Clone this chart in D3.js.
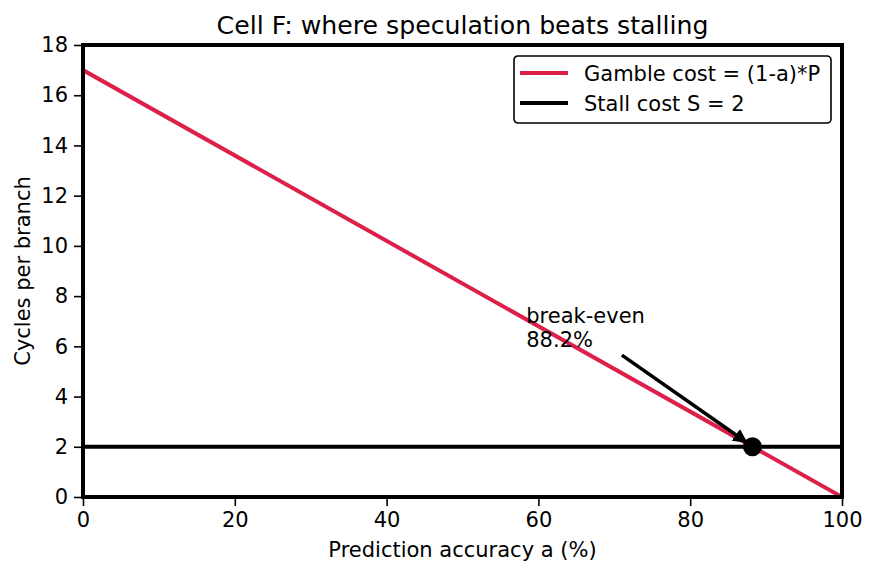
<!DOCTYPE html>
<html><head><meta charset="utf-8">
<script src="https://cdn.jsdelivr.net/npm/d3@7"></script>
<style>body{margin:0;background:#fff}svg{display:block}text{font-family:"DejaVu Sans",sans-serif;fill:#000}</style>
</head><body>
<script>
const accuracy = [0, 100];
const gambleCost = [17, 0];
const stallAccuracy = [0, 100];
const stallCost = [2, 2];
const breakEven = {a: 88.2, cost: 2, label: ["break-even", "88.2%"], textA: 58.4, tailA: 71, tailCost: 5.65};
const xTicks = [0, 20, 40, 60, 80, 100];
const yTicks = [0, 2, 4, 6, 8, 10, 12, 14, 16, 18];
const legendLabels = ["Gamble cost = (1-a)*P", "Stall cost S = 2"];
const colors = ["#dc2049", "#000000"];

const W = 876, H = 573;
const m = {l: 83, r: 34, t: 45, b: 76};
const FS = 21;
const svg = d3.select("body").append("svg").attr("width", W).attr("height", H);
const x = d3.scaleLinear().domain([0, 100]).range([m.l, W - m.r]);
const y = d3.scaleLinear().domain([0, 18]).range([H - m.b, m.t]);

const defs = svg.append("defs");
defs.append("clipPath").attr("id", "clip").append("rect")
  .attr("x", m.l).attr("y", m.t).attr("width", W - m.r - m.l).attr("height", H - m.b - m.t);
defs.append("marker").attr("id", "arr").attr("viewBox", "0 0 10 10").attr("refX", 9).attr("refY", 5)
  .attr("markerWidth", 4).attr("markerHeight", 4).attr("orient", "auto").attr("markerUnits", "strokeWidth")
  .append("path").attr("d", "M0,0 L10,5 L0,10 Z").attr("fill", "#000");

const line = d3.line().x(d => x(d[0])).y(d => y(d[1]));
const g = svg.append("g").attr("clip-path", "url(#clip)");
g.append("path").datum(accuracy.map((a, i) => [a, gambleCost[i]]))
  .attr("d", line).attr("fill", "none").attr("stroke", colors[0]).attr("stroke-width", 4);
g.append("path").datum(stallAccuracy.map((a, i) => [a, stallCost[i]]))
  .attr("d", line).attr("fill", "none").attr("stroke", colors[1]).attr("stroke-width", 4);

// axes
const xAxis = svg.append("g").attr("transform", `translate(0,${H - m.b})`)
  .call(d3.axisBottom(x).tickValues(xTicks).tickSize(9).tickPadding(6));
const yAxis = svg.append("g").attr("transform", `translate(${m.l},0)`)
  .call(d3.axisLeft(y).tickValues(yTicks).tickSize(9).tickPadding(6));
[xAxis, yAxis].forEach(ax => {
  ax.select(".domain").remove();
  ax.selectAll("line").attr("stroke", "#000").attr("stroke-width", 1.6);
  ax.selectAll("text").attr("font-size", FS).attr("font-family", "DejaVu Sans").attr("fill", "#000");
});

// spines
svg.append("rect").attr("x", m.l).attr("y", m.t).attr("width", W - m.r - m.l).attr("height", H - m.b - m.t)
  .attr("fill", "none").attr("stroke", "#000").attr("stroke-width", 4);

// annotation
svg.append("line").attr("x1", x(breakEven.tailA)).attr("y1", y(breakEven.tailCost))
  .attr("x2", x(breakEven.a) - 6).attr("y2", y(breakEven.cost) - 4.5)
  .attr("stroke", "#000").attr("stroke-width", 3.6).attr("marker-end", "url(#arr)");
svg.append("circle").attr("cx", x(breakEven.a)).attr("cy", y(breakEven.cost)).attr("r", 9.5).attr("fill", "#000");
const ann = svg.append("text").attr("x", x(breakEven.textA)).attr("y", 323).attr("font-size", FS);
breakEven.label.forEach((t, i) => ann.append("tspan").attr("x", x(breakEven.textA)).attr("dy", i ? 24 : 0).text(t));

// legend
const lg = svg.append("g").attr("transform", "translate(514,56)");
lg.append("rect").attr("width", 317).attr("height", 67).attr("rx", 4).attr("fill", "#fff")
  .attr("stroke", "#000").attr("stroke-width", 1.6);
legendLabels.forEach((t, i) => {
  const yy = 17 + i * 30;
  lg.append("line").attr("x1", 6).attr("x2", 54).attr("y1", yy).attr("y2", yy)
    .attr("stroke", colors[i]).attr("stroke-width", 4);
  lg.append("text").attr("x", 70).attr("y", yy + 7.5).attr("font-size", FS).text(t);
});

// titles
svg.append("text").attr("x", (m.l + W - m.r) / 2).attr("y", 34).attr("text-anchor", "middle")
  .attr("font-size", 25.2).text("Cell F: where speculation beats stalling");
svg.append("text").attr("x", (m.l + W - m.r) / 2).attr("y", 557).attr("text-anchor", "middle")
  .attr("font-size", FS).text("Prediction accuracy a (%)");
svg.append("text").attr("transform", `translate(30,${(m.t + H - m.b) / 2}) rotate(-90)`).attr("text-anchor", "middle")
  .attr("font-size", FS).text("Cycles per branch");
</script>
</body></html>
